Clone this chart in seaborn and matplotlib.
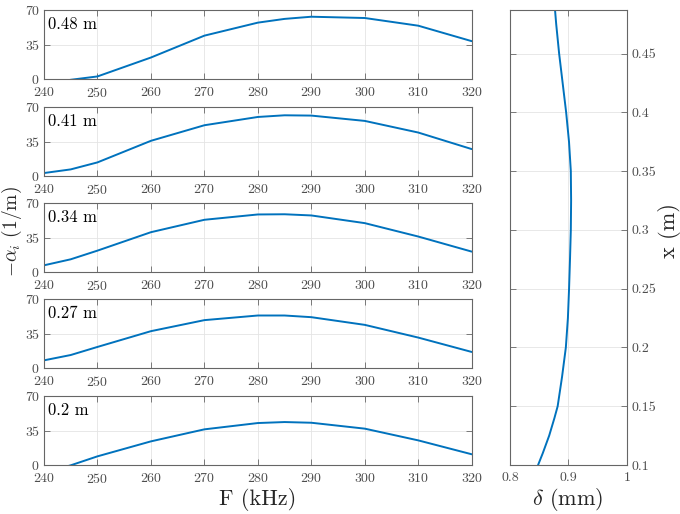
import numpy as np
import pandas as pd
import matplotlib
matplotlib.use('Agg')
import matplotlib.pyplot as plt
import seaborn as sns
from matplotlib.ticker import FuncFormatter

# frequency axis (kHz)
freq = [240, 245, 250, 260, 270, 280, 285, 290, 300, 310, 320]

# -alpha_i (1/m) at each station
alpha_048 = [-6.0, -0.8, 2.6, 21.8, 44.0, 57.2, 61.0, 63.2, 61.9, 54.1, 38.4]
alpha_041 = [3.0, 6.7, 13.8, 35.7, 51.5, 59.9, 61.6, 61.3, 55.9, 44.1, 27.3]
alpha_034 = [6.8, 12.9, 21.7, 40.4, 53.0, 58.4, 58.6, 57.4, 49.6, 36.0, 20.7]
alpha_027 = [7.8, 13.2, 21.4, 37.4, 48.6, 53.3, 53.3, 51.6, 43.8, 30.9, 16.3]
alpha_020 = [-8.0, -0.3, 8.8, 24.0, 36.2, 42.6, 43.6, 42.9, 36.9, 25.0, 10.9]

stations = ['0.48 m', '0.41 m', '0.34 m', '0.27 m', '0.2 m']
series = [alpha_048, alpha_041, alpha_034, alpha_027, alpha_020]

# boundary layer thickness along x
xpos = [0.1, 0.11, 0.125, 0.14, 0.15, 0.175, 0.2, 0.225, 0.25, 0.275, 0.3, 0.325,
        0.35, 0.375, 0.4, 0.425, 0.45, 0.475, 0.487]
delta = [0.848, 0.856, 0.867, 0.876, 0.8815, 0.889, 0.8955, 0.899, 0.901, 0.9026, 0.904, 0.9045,
         0.904, 0.9009, 0.896, 0.890, 0.884, 0.879, 0.877]

sns.set_style('white')
plt.rcParams['font.family'] = ['cmr10', 'DejaVu Serif']
plt.rcParams['mathtext.fontset'] = 'cm'
plt.rcParams['axes.formatter.use_mathtext'] = True
plt.rcParams['axes.unicode_minus'] = False

blue = '#0072BD'
edge = '#666666'
tickc = '#4d4d4d'

fig = plt.figure(figsize=(6.8, 5.14), dpi=100)

def style(ax):
    for s in ax.spines.values():
        s.set_color(edge)
        s.set_linewidth(0.8)
    ax.tick_params(direction='in', length=4, width=0.6, color=edge,
                   labelcolor=tickc, labelsize=10, top=True, right=True,
                   bottom=True, left=True)
    ax.tick_params(axis='x', pad=5)
    ax.tick_params(axis='y', pad=3)
    ax.grid(True, color='#e4e4e4', linewidth=0.6)
    ax.set_axisbelow(True)

bottoms = [0.8463, 0.6576, 0.4708, 0.2840, 0.0953]
for name, vals, b in zip(stations, series, bottoms):
    ax = fig.add_axes([0.0647, b, 0.629, 0.1342])
    df = pd.DataFrame({'F': freq, 'a': vals})
    sns.lineplot(data=df, x='F', y='a', ax=ax, color=blue, linewidth=1.4)
    ax.set_xlim(240, 320)
    ax.set_ylim(0, 70)
    ax.set_xticks(range(240, 321, 10))
    ax.set_yticks([0, 35, 70])
    ax.set_xlabel('')
    ax.set_ylabel('')
    style(ax)
    ax.text(0.01, 0.9, name, transform=ax.transAxes, ha='left', va='top',
            fontsize=12, color='black')

axr = fig.add_axes([0.75, 0.0953, 0.172, 0.8852])
dfr = pd.DataFrame({'d': delta, 'x': xpos})
sns.lineplot(data=dfr, x='d', y='x', ax=axr, orient='y', estimator=None,
             sort=False, color=blue, linewidth=1.4)
axr.set_xlim(0.8, 1.0)
axr.set_ylim(0.1, 0.487)
axr.set_xticks([0.8, 0.9, 1.0])
axr.set_yticks([0.1, 0.15, 0.2, 0.25, 0.3, 0.35, 0.4, 0.45])
fmt = FuncFormatter(lambda v, p: '%g' % round(v, 3))
axr.xaxis.set_major_formatter(fmt)
axr.yaxis.set_major_formatter(fmt)
axr.yaxis.tick_right()
axr.set_xlabel('')
axr.set_ylabel('')
style(axr)

fig.text(0.379, 0.028, 'F (kHz)', ha='center', va='center', fontsize=16)
fig.text(0.835, 0.028, r'$\delta$ (mm)', ha='center', va='center', fontsize=16)
fig.text(0.017, 0.549, r'$-\alpha_i$ (1/m)', ha='center', va='center',
         rotation=90, fontsize=14)
fig.text(0.985, 0.552, 'x (m)', ha='center', va='center',
         rotation=90, fontsize=16)

fig.savefig('out.png', dpi=100)
